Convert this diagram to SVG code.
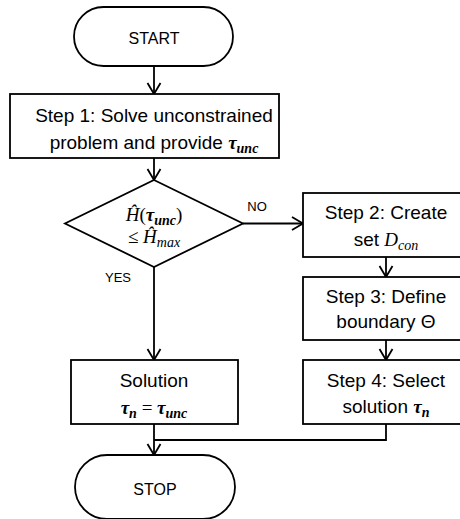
<svg xmlns="http://www.w3.org/2000/svg" width="460" height="519" viewBox="0 0 460 519">
<defs>
<marker id="arr" markerUnits="userSpaceOnUse" markerWidth="16" markerHeight="16" viewBox="-13 -8 16 16" refX="0" refY="0" orient="auto">
<path d="M -11 -6.5 L 0 0 L -11 6.5" fill="none" stroke="#000" stroke-width="1.8"/>
</marker>
<style>
.sh{fill:#fff;stroke:#000;stroke-width:1.8}
.t{font-family:"Liberation Sans",Arial,sans-serif;font-size:19px;fill:#000;text-anchor:middle}
.s{font-family:"Liberation Sans",Arial,sans-serif;font-size:16px;fill:#000;text-anchor:middle}
.l{font-family:"Liberation Sans",Arial,sans-serif;font-size:13px;fill:#000;text-anchor:middle}
.m{font-family:"Liberation Serif","Times New Roman",serif;font-style:italic}
.b{font-family:"Liberation Serif","Times New Roman",serif;font-style:italic;font-weight:bold}
.sub{font-size:14px}
.c{fill:none;stroke:#000;stroke-width:1.8}
</style>
</defs>
<rect width="460" height="519" fill="#fff"/>
<g id="connectors">
<line class="c" x1="154" y1="66" x2="154" y2="94" marker-end="url(#arr)"/>
<line class="c" x1="154" y1="158" x2="154" y2="180" marker-end="url(#arr)"/>
<line class="c" x1="243" y1="223.5" x2="303" y2="223.5" marker-end="url(#arr)"/>
<line class="c" x1="154" y1="267" x2="154" y2="360" marker-end="url(#arr)"/>
<line class="c" x1="386" y1="257" x2="386" y2="277" marker-end="url(#arr)"/>
<line class="c" x1="386" y1="340" x2="386" y2="360" marker-end="url(#arr)"/>
<line class="c" x1="154" y1="424" x2="154" y2="455" marker-end="url(#arr)"/>
<polyline class="c" points="386,424 386,440 154,440"/>
<text class="l" x="257" y="211">NO</text>
<text class="l" x="118" y="282">YES</text>
</g>
<g id="start">
<rect class="sh" x="74" y="7" width="159" height="59" rx="29.5"/>
<text class="s" x="154" y="44">START</text>
</g>
<g id="step1">
<rect class="sh" x="10" y="94" width="269" height="64"/>
<text class="t" x="154" y="122">Step 1: Solve unconstrained</text>
<text class="t" x="154" y="149">problem and provide <tspan class="b">τ</tspan><tspan class="b sub" dy="4">unc</tspan></text>
</g>
<g id="decision">
<polygon class="sh" points="154,180 243,223.5 154,267 65,223.5"/>
<text class="t" x="154" y="221"><tspan class="m">Ĥ</tspan><tspan font-family="Liberation Serif,serif">(</tspan><tspan class="b">τ</tspan><tspan class="b sub" dy="4">unc</tspan><tspan font-family="Liberation Serif,serif" dy="-4">)</tspan></text>
<text class="t" x="154" y="243"><tspan font-family="Liberation Serif,serif">≤ </tspan><tspan class="m">Ĥ</tspan><tspan class="m sub" dy="4">max</tspan></text>
</g>
<g id="step2">
<rect class="sh" x="303" y="193" width="170" height="64"/>
<text class="t" x="386" y="219">Step 2: Create</text>
<text class="t" x="386" y="246">set <tspan class="m">D</tspan><tspan class="m sub" dy="4">con</tspan></text>
</g>
<g id="step3">
<rect class="sh" x="303" y="277" width="170" height="63"/>
<text class="t" x="386" y="303">Step 3: Define</text>
<text class="t" x="386" y="328">boundary Θ</text>
</g>
<g id="step4">
<rect class="sh" x="303" y="360" width="170" height="64"/>
<text class="t" x="386" y="387">Step 4: Select</text>
<text class="t" x="386" y="413">solution <tspan class="b">τ</tspan><tspan class="b sub" dy="4">n</tspan></text>
</g>
<g id="solution">
<rect class="sh" x="71" y="360" width="167" height="64"/>
<text class="t" x="154" y="387">Solution</text>
<text class="t" x="154" y="414"><tspan class="b">τ</tspan><tspan class="b sub" dy="4">n</tspan><tspan font-family="Liberation Serif,serif" dy="-4"> = </tspan><tspan class="b">τ</tspan><tspan class="b sub" dy="4">unc</tspan></text>
</g>
<g id="stop">
<rect class="sh" x="75" y="455" width="160" height="64" rx="32"/>
<text class="s" x="155" y="495">STOP</text>
</g>
</svg>
